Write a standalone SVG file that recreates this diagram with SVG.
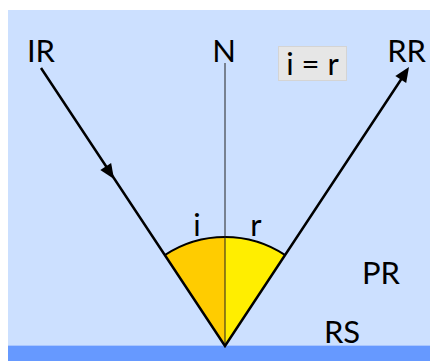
<svg xmlns="http://www.w3.org/2000/svg" width="430" height="361" viewBox="0 0 430 361">
<style>
.lbl{font-family:Lato,"Liberation Sans",sans-serif;font-size:31px;fill:#000}
.ray{fill:none;stroke:#000;stroke-width:2.5;stroke-linejoin:miter}
</style>
<defs>
<path id="ah" d="M0,0 L-15,-6.5 L-15,6.5 Z" fill="#000"/>
</defs>
<g id="background">
<rect x="8" y="10" width="422" height="336" fill="#CCE0FF"/>
<rect x="8" y="346" width="422" height="15" fill="#6699FF"/>
<rect x="8" y="345" width="422" height="1" fill="#A9C6FF"/>
</g>
<g id="angles">
<path d="M225,346 L164.8,255.1 A109,109 0 0 1 225,237 Z" fill="#FFCC00"/>
<path d="M225,346 L225,237 A109,109 0 0 1 285.2,255.1 Z" fill="#FFEE00"/>
<path d="M164.8,255.1 A109,109 0 0 1 285.2,255.1" fill="none" stroke="#000" stroke-width="2"/>
</g>
<g id="connectors">
<line id="normal" x1="225" y1="63" x2="225" y2="346" stroke="#222" stroke-width="1"/>
<path class="ray" d="M41,68 L225,346 L406,72"/>
<use href="#ah" transform="translate(114,179) rotate(56.5)"/>
<use href="#ah" transform="translate(409,67) rotate(-56.7)"/>
</g>
<g id="IR"><text class="lbl" x="41" y="62" text-anchor="middle">IR</text></g>
<g id="N"><text class="lbl" x="224" y="62" text-anchor="middle">N</text></g>
<g id="RR"><text class="lbl" x="426" y="62" text-anchor="end">RR</text></g>
<g id="eq">
<rect x="278.5" y="46.5" width="68" height="34" fill="#E6E6E6" stroke="#D4D4D4" stroke-width="1"/>
<text class="lbl" x="312.5" y="75" text-anchor="middle">i = r</text>
</g>
<g id="i"><text class="lbl" x="197" y="236" text-anchor="middle">i</text></g>
<g id="r"><text class="lbl" x="256" y="236" text-anchor="middle">r</text></g>
<g id="PR"><text class="lbl" x="381" y="284" text-anchor="middle">PR</text></g>
<g id="RS"><text class="lbl" x="342" y="343" text-anchor="middle">RS</text></g>
</svg>
